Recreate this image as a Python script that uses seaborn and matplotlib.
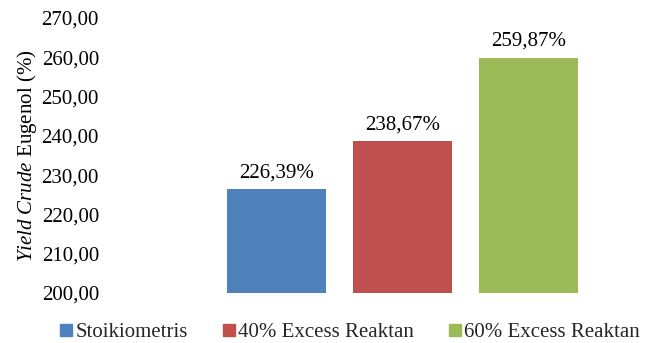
import matplotlib
matplotlib.use("Agg")
import matplotlib.pyplot as plt
from matplotlib.lines import Line2D
import seaborn as sns
import pandas as pd

# Data
categories = ["Stoikiometris", "40% Excess Reaktan", "60% Excess Reaktan"]
yields = [226.39, 238.67, 259.87]
colors = ["#4F81BD", "#C0504D", "#9BBB59"]
y_ticks = [200, 210, 220, 230, 240, 250, 260, 270]

sns.set_theme(style="white")
plt.rcParams["font.family"] = ["Liberation Serif", "DejaVu Serif"]
plt.rcParams["mathtext.fontset"] = "custom"
plt.rcParams["mathtext.rm"] = "Liberation Serif"
plt.rcParams["mathtext.it"] = "Liberation Serif:italic"

df = pd.DataFrame({"Perlakuan": categories, "Yield": yields})

fig = plt.figure(figsize=(6.59, 3.43), dpi=100)
ax = fig.add_axes([110 / 659, 50 / 343, 535 / 659, 275 / 343])

sns.barplot(data=df, x="Perlakuan", y="Yield", hue="Perlakuan",
            palette=colors, width=0.786, ax=ax, legend=False,
            saturation=1, edgecolor="none")

ax.set_ylim(200, 270)
ax.set_xlim(-1.321, 2.925)
ax.set_yticks(y_ticks)
ax.set_yticklabels([f"{t:.2f}".replace(".", ",") for t in y_ticks], fontsize=15)
ax.set_xticks([])
ax.set_xlabel("")
ax.tick_params(axis="y", length=0, pad=8, colors="#000000")
for s in ax.spines.values():
    s.set_visible(False)

ax.set_ylabel(r"$\it{Yield\ Crude}$ Eugenol (%)", fontsize=15, labelpad=2,
              color="#000000")

for container in ax.containers:
    labels = [f"{b.get_height():.2f}".replace(".", ",") + "%" for b in container]
    ax.bar_label(container, labels=labels, padding=5, fontsize=15, color="#000000")

handles = [Line2D([0], [0], marker="s", linestyle="none", markersize=8,
                  markerfacecolor=c, markeredgecolor=c) for c in colors]
fig.legend(handles, categories, loc="center", ncol=3,
           bbox_to_anchor=(350 / 659, 11 / 343), frameon=False,
           prop={"family": "Liberation Serif", "size": 15},
           handlelength=0.55, handletextpad=0.15, columnspacing=1.7,
           borderaxespad=0, borderpad=0)

fig.savefig("out.png", dpi=100)
